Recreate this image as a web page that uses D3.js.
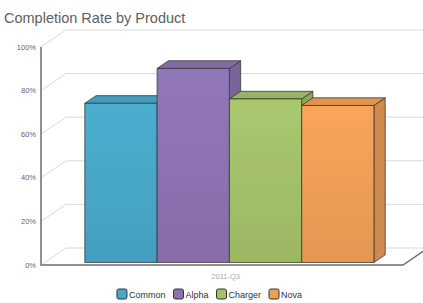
<!DOCTYPE html>
<html>
<head>
<meta charset="utf-8">
<script src="https://cdn.jsdelivr.net/npm/d3@7"></script>
<style>
  body { margin: 0; background: #fff; }
  text { font-family: "Liberation Sans", Arial, sans-serif; }
</style>
</head>
<body>
<script>
var width = 423,
    height = 303;

// data
var categories = ["2011-Q3"];
var series = ["Common", "Alpha", "Charger", "Nova"];
var values = [73, 89, 75, 72];
var colors = ["#48a8c8", "#8d73b2", "#a3c16a", "#f09f56"];
var yTicks = [0, 20, 40, 60, 80, 100];

// 3d look: depth of the chart box, bars sit in a slice of it
var DX = 25, DY = -17;
var zFront = 0.15, zBack = 0.6;

var svg = d3.select("body").append("svg")
    .attr("width", width)
    .attr("height", height);

var defs = svg.append("defs");

var x0 = d3.scaleBand().domain(categories).range([41, 403])
    .paddingInner(0).paddingOuter(0.126).align(0.55);
var x1 = d3.scaleBand().domain(series).range([0, x0.bandwidth()]);
var y = d3.scaleLinear().domain([0, 100]).range([265, 47]);

// project a point (front x, value, depth)
function P(x, v, z) {
  return [x + z * DX, y(v) + z * DY];
}
function poly(pts) {
  return "M" + pts.map(function(p) { return p[0] + "," + p[1]; }).join("L") + "Z";
}

// title
svg.append("text")
    .attr("x", 4).attr("y", 23)
    .attr("font-size", 14.5)
    .attr("fill", "#606060")
    .text("Completion Rate by Product");

// back wall grid
var grid = svg.append("g");
yTicks.forEach(function(t) {
  var a = P(41, t, 0), b = P(41, t, 1), c = P(403, t, 1);
  grid.append("path")
      .attr("d", "M" + a + "L" + b + "L" + c)
      .attr("fill", "none")
      .attr("stroke", "#d9d9d9")
      .attr("stroke-width", 1);
});

// y tick labels
svg.append("g").selectAll("text")
  .data(yTicks)
  .enter().append("text")
    .attr("x", 36)
    .attr("y", function(d) { return y(d); })
    .attr("dy", "0.35em")
    .attr("text-anchor", "end")
    .attr("font-size", 7.5)
    .attr("fill", "#666")
    .text(function(d) { return d + "%"; });

// floor front edge + axis line
var f0 = P(403, 0, 0), f1 = P(403, 0, 1);
svg.append("path")
    .attr("d", "M" + P(41, 100, 0) + "L" + P(41, 0, 0) + "L" + f0 + "L" + f1)
    .attr("fill", "none")
    .attr("stroke", "#6e6e6e")
    .attr("stroke-width", 1.5);

// bars
series.forEach(function(s, i) {
  var g = defs.append("linearGradient")
      .attr("id", "grad" + i)
      .attr("x1", 0).attr("y1", 0).attr("x2", 0).attr("y2", 1);
  g.append("stop").attr("offset", "0%").attr("stop-color", d3.color(colors[i]).brighter(0.1));
  g.append("stop").attr("offset", "100%").attr("stop-color", d3.color(colors[i]).darker(0.15));
});

var bars = svg.append("g");
categories.forEach(function(cat) {
  series.forEach(function(s, i) {
    var v = values[i];
    var xl = x0(cat) + x1(s), xr = xl + x1.bandwidth();
    var front = [P(xl, 0, zFront), P(xl, v, zFront), P(xr, v, zFront), P(xr, 0, zFront)];
    var top = [P(xl, v, zFront), P(xl, v, zBack), P(xr, v, zBack), P(xr, v, zFront)];
    var side = [P(xr, 0, zFront), P(xr, v, zFront), P(xr, v, zBack), P(xr, 0, zBack)];
    var bg = bars.append("g")
        .attr("stroke", "#3a3a3a")
        .attr("stroke-width", 0.8)
        .attr("stroke-linejoin", "round");
    bg.append("path").attr("d", poly(side)).attr("fill", d3.color(colors[i]).darker(0.4));
    bg.append("path").attr("d", poly(top)).attr("fill", d3.color(colors[i]).darker(0.2));
    bg.append("path").attr("d", poly(front)).attr("fill", "url(#grad" + i + ")");
  });
});

// category label
svg.append("g").selectAll("text")
  .data(categories)
  .enter().append("text")
    .attr("x", function(d) { return x0(d) + x0.bandwidth() / 2; })
    .attr("y", 279)
    .attr("text-anchor", "middle")
    .attr("font-size", 7.5)
    .attr("fill", "#aaa")
    .text(function(d) { return d; });

// legend
var legend = svg.append("g");
var lx = 0;
series.forEach(function(s, i) {
  var item = legend.append("g").attr("transform", "translate(" + lx + ",0)");
  item.append("rect")
      .attr("x", 0).attr("y", 0)
      .attr("width", 10).attr("height", 10)
      .attr("rx", 2)
      .attr("fill", colors[i])
      .attr("stroke", "#333")
      .attr("stroke-width", 1);
  var t = item.append("text")
      .attr("x", 12).attr("y", 8.5)
      .attr("font-size", 9)
      .attr("fill", "#333")
      .text(s);
  lx += 12 + t.node().getComputedTextLength() + 8;
});
legend.attr("transform", "translate(" + ((width - (lx - 8)) / 2 - 2) + ",289)");
</script>
</body>
</html>
